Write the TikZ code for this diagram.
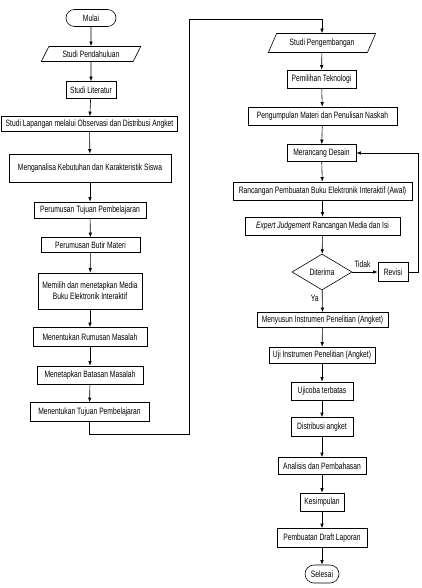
\documentclass[tikz,border=0pt]{standalone}
\usepackage{fontspec}
\setmainfont[FakeStretch=0.73]{Liberation Sans}
\usepackage{tikz}
\usetikzlibrary{shapes.geometric, shapes.misc, arrows.meta}

\begin{document}
\begin{tikzpicture}[x=1pt, y=-1pt,
    font=\fontsize{9.2}{11}\selectfont,
    proses/.style={rectangle, draw, line width=0.6pt, minimum height=17pt, inner xsep=4pt, inner ysep=1pt},
    terminal/.style={rounded rectangle, draw, line width=0.6pt, minimum height=17pt, inner xsep=6pt},
    datain/.style={trapezium, trapezium left angle=67, trapezium right angle=113, trapezium stretches=true, draw, line width=0.6pt, minimum height=15pt},
    keputusan/.style={diamond, draw, line width=0.6pt, aspect=1.7, inner sep=1pt, minimum width=60pt, minimum height=36pt},
    panah/.style={-{Latex[length=4.5pt,width=3.5pt]}, line width=0.6pt}]
    \useasboundingbox (0,0) rectangle (422,588);

    % kolom kiri
    \node[terminal, minimum width=62pt] (mulai) at (91,18) {Mulai};
    \node[datain, minimum width=100pt] (pendahuluan) at (91,54) {Studi Pendahuluan};
    \node[proses, minimum width=50pt] (literatur) at (91,90) {Studi Literatur};
    \node[proses, minimum width=175pt, minimum height=15pt] (lapangan) at (89.5,124) {Studi Lapangan melalui Observasi dan Distribusi Angket};
    \node[proses, minimum width=162pt, minimum height=28pt] (analisa) at (90,168) {Menganalisa Kebutuhan dan Karakteristik Siswa};
    \node[proses, minimum width=112pt, minimum height=16pt] (tujuan) at (90,210) {Perumusan Tujuan Pembelajaran};
    \node[proses, minimum width=99pt, minimum height=15pt] (butir) at (90.5,245) {Perumusan Butir Materi};
    \node[proses, minimum width=104pt, minimum height=36pt, align=center] (media) at (90,291) {Memilih dan menetapkan Media\\Buku Elektronik Interaktif};
    \node[proses, minimum width=114pt, minimum height=19pt] (rumusan) at (90,337) {Menentukan Rumusan Masalah};
    \node[proses, minimum width=106pt, minimum height=18pt] (batasan) at (90,375) {Menetapkan Batasan Masalah};
    \node[proses, minimum width=119pt, minimum height=19pt] (tujuanbelajar) at (89.5,412) {Menentukan Tujuan Pembelajaran};

    % kolom kanan
    \node[datain, minimum width=108pt, minimum height=19pt] (pengembangan) at (322,43) {Studi Pengembangan};
    \node[proses, minimum width=69pt, minimum height=18pt] (teknologi) at (321.5,79) {Pemilihan Teknologi};
    \node[proses, minimum width=149pt, minimum height=18pt] (naskah) at (322.5,116) {Pengumpulan Materi dan Penulisan Naskah};
    \node[proses, minimum width=69pt, minimum height=17pt] (desain) at (321.5,153) {Merancang Desain};
    \node[proses, minimum width=179pt, minimum height=18pt] (rancangan) at (322.5,191) {Rancangan Pembuatan Buku Elektronik Interaktif (Awal)};
    \node[proses, minimum width=155pt, minimum height=18pt] (expert) at (322.5,226) {\textit{Expert Judgement} Rancangan Media dan Isi};
    \node[keputusan] (diterima) at (322,272) {Diterima};
    \node[proses, minimum width=30pt, minimum height=19pt] (revisi) at (393,272) {Revisi};
    \node[proses, minimum width=131pt, minimum height=15pt] (menyusun) at (322.5,320) {Menyusun Instrumen Penelitian (Angket)};
    \node[proses, minimum width=106pt, minimum height=16pt] (uji) at (322,355) {Uji Instrumen Penelitian (Angket)};
    \node[proses, minimum width=62pt, minimum height=18pt] (ujicoba) at (322,391) {Ujicoba terbatas};
    \node[proses, minimum width=62pt, minimum height=19pt] (distribusi) at (322,427) {Distribusi angket};
    \node[proses, minimum width=88pt, minimum height=17pt] (analisis) at (322,466) {Analisis dan Pembahasan};
    \node[proses, minimum width=44pt, minimum height=18pt] (kesimpulan) at (322,502) {Kesimpulan};
    \node[proses, minimum width=90pt, minimum height=19pt] (draft) at (322,538) {Pembuatan Draft Laporan};
    \node[terminal, minimum width=46pt, minimum height=18pt] (selesai) at (322,574) {Selesai};

    \coordinate (bawah) at (189,434);
    \coordinate (atas) at (189,19);
    \coordinate (balik) at (418,153);

    \draw[panah] (mulai) -- (pendahuluan);
    \draw[panah] (pendahuluan) -- (literatur);
    \draw[panah] (literatur) -- (lapangan);
    \draw[panah] (lapangan) -- (analisa);
    \draw[panah] (analisa) -- (tujuan);
    \draw[panah] (tujuan) -- (butir);
    \draw[panah] (butir) -- (media);
    \draw[panah] (media) -- (rumusan);
    \draw[panah] (rumusan) -- (batasan);
    \draw[panah] (batasan) -- (tujuanbelajar);
    \draw[panah] (tujuanbelajar) |- (bawah) -- (atas) -| (pengembangan);
    \draw[panah] (pengembangan) -- (teknologi);
    \draw[panah] (teknologi) -- (naskah);
    \draw[panah] (naskah) -- (desain);
    \draw[panah] (desain) -- (rancangan);
    \draw[panah] (rancangan) -- (expert);
    \draw[panah] (expert) -- (diterima);
    \draw[panah] (diterima) -- node[above, pos=0.4, yshift=1pt] {Tidak} (revisi);
    \draw[panah] (revisi) -| (balik) -- (desain);
    \draw[panah] (diterima) -- node[left, pos=0.35] {Ya} (menyusun);
    \draw[panah] (menyusun) -- (uji);
    \draw[panah] (uji) -- (ujicoba);
    \draw[panah] (ujicoba) -- (distribusi);
    \draw[panah] (distribusi) -- (analisis);
    \draw[panah] (analisis) -- (kesimpulan);
    \draw[panah] (kesimpulan) -- (draft);
    \draw[panah] (draft) -- (selesai);
\end{tikzpicture}
\end{document}
